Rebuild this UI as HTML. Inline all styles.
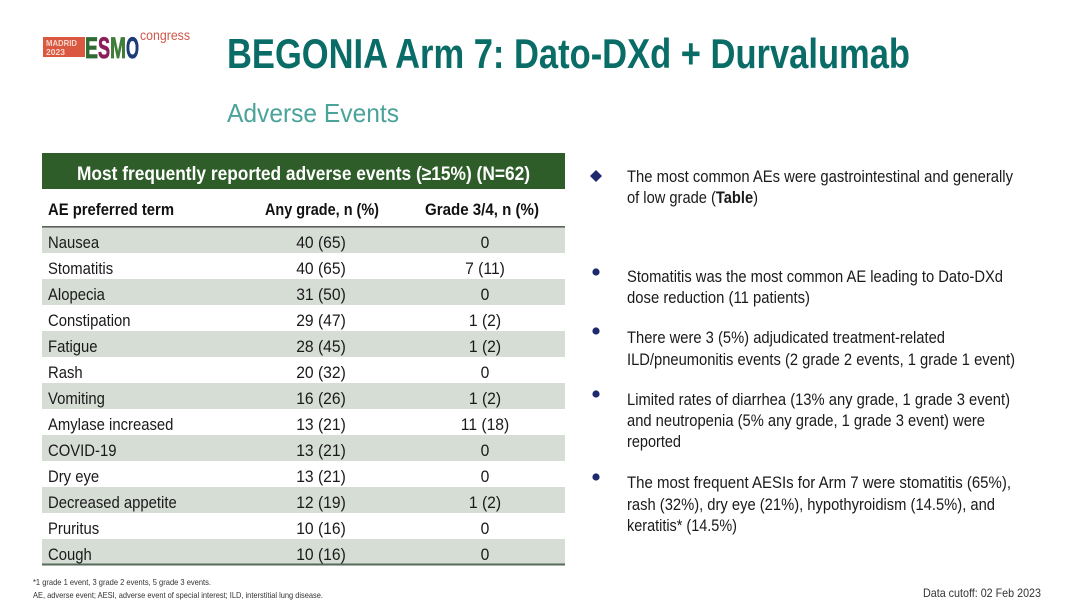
<!DOCTYPE html>
<html><head><meta charset="utf-8"><style>
html,body{margin:0;padding:0;background:#fff;}
svg{display:block;}
text{font-family:"Liberation Sans",Arial,sans-serif;}
</style></head><body>
<svg width="1080" height="608" viewBox="0 0 1080 608" xmlns="http://www.w3.org/2000/svg">
<rect width="1080" height="608" fill="#ffffff"/>
<!-- Logo -->
<rect x="43" y="37" width="42" height="20" fill="#d9583f"/>
<text x="46" y="46" font-size="8.5" font-weight="bold" fill="#f6d7cf" textLength="31" lengthAdjust="spacingAndGlyphs">MADRID</text>
<text x="46" y="55" font-size="8.5" font-weight="bold" fill="#f6d7cf" textLength="19" lengthAdjust="spacingAndGlyphs">2023</text>
<text x="85" y="58" font-size="30" font-weight="bold" fill="#2f6b34" stroke="#2f6b34" stroke-width="0.8" textLength="13" lengthAdjust="spacingAndGlyphs">E</text>
<text x="98" y="58" font-size="30" font-weight="bold" fill="#8b1f5a" stroke="#8b1f5a" stroke-width="0.8" textLength="12" lengthAdjust="spacingAndGlyphs">S</text>
<text x="110" y="58" font-size="30" font-weight="bold" fill="#3f7d3a" stroke="#3f7d3a" stroke-width="0.8" textLength="16" lengthAdjust="spacingAndGlyphs">M</text>
<text x="126" y="58" font-size="30" font-weight="bold" fill="#1c3c78" stroke="#1c3c78" stroke-width="0.8" textLength="13" lengthAdjust="spacingAndGlyphs">O</text>
<text x="140" y="40" font-size="14" fill="#d0584a" textLength="50" lengthAdjust="spacingAndGlyphs">congress</text>

<!-- Title -->
<text x="227" y="68" font-size="42" font-weight="bold" fill="#0a6c67" textLength="683" lengthAdjust="spacingAndGlyphs">BEGONIA Arm 7: Dato-DXd + Durvalumab</text>
<text x="227" y="122" font-size="26" fill="#4ba39a" textLength="172" lengthAdjust="spacingAndGlyphs">Adverse Events</text>

<!-- Table -->
<rect x="42" y="153" width="523" height="36" fill="#2f5d2a"/>
<text x="77" y="180" font-size="19.5" font-weight="bold" fill="#ffffff" textLength="453" lengthAdjust="spacingAndGlyphs">Most frequently reported adverse events (≥15%) (N=62)</text>
<text x="48" y="215" font-size="17" font-weight="bold" fill="#111" textLength="126" lengthAdjust="spacingAndGlyphs">AE preferred term</text>
<text x="265" y="215" font-size="17" font-weight="bold" fill="#111" textLength="114" lengthAdjust="spacingAndGlyphs">Any grade, n (%)</text>
<text x="425" y="215" font-size="17" font-weight="bold" fill="#111" textLength="114" lengthAdjust="spacingAndGlyphs">Grade 3/4, n (%)</text>

<g fill="#d6ddd5">
<rect x="42" y="227" width="523" height="26"/>
<rect x="42" y="279" width="523" height="26"/>
<rect x="42" y="331" width="523" height="26"/>
<rect x="42" y="383" width="523" height="26"/>
<rect x="42" y="435" width="523" height="26"/>
<rect x="42" y="487" width="523" height="26"/>
<rect x="42" y="539" width="523" height="25"/>
</g>
<rect x="42" y="226" width="523" height="1.6" fill="#5a625a"/>
<rect x="42" y="563.5" width="523" height="2" fill="#56695a"/>

<g font-size="16.5" fill="#1a1a1a">
<g>
<text transform="translate(48,248) scale(0.9,1)">Nausea</text>
<text transform="translate(48,274) scale(0.9,1)">Stomatitis</text>
<text transform="translate(48,300) scale(0.9,1)">Alopecia</text>
<text transform="translate(48,326) scale(0.9,1)">Constipation</text>
<text transform="translate(48,352) scale(0.9,1)">Fatigue</text>
<text transform="translate(48,378) scale(0.9,1)">Rash</text>
<text transform="translate(48,404) scale(0.9,1)">Vomiting</text>
<text transform="translate(48,430) scale(0.9,1)">Amylase increased</text>
<text transform="translate(48,456) scale(0.9,1)">COVID-19</text>
<text transform="translate(48,482) scale(0.9,1)">Dry eye</text>
<text transform="translate(48,508) scale(0.9,1)">Decreased appetite</text>
<text transform="translate(48,534) scale(0.9,1)">Pruritus</text>
<text transform="translate(48,560) scale(0.9,1)">Cough</text>
</g>
<g text-anchor="middle">
<text transform="translate(321,248) scale(0.95,1)">40 (65)</text>
<text transform="translate(321,274) scale(0.95,1)">40 (65)</text>
<text transform="translate(321,300) scale(0.95,1)">31 (50)</text>
<text transform="translate(321,326) scale(0.95,1)">29 (47)</text>
<text transform="translate(321,352) scale(0.95,1)">28 (45)</text>
<text transform="translate(321,378) scale(0.95,1)">20 (32)</text>
<text transform="translate(321,404) scale(0.95,1)">16 (26)</text>
<text transform="translate(321,430) scale(0.95,1)">13 (21)</text>
<text transform="translate(321,456) scale(0.95,1)">13 (21)</text>
<text transform="translate(321,482) scale(0.95,1)">13 (21)</text>
<text transform="translate(321,508) scale(0.95,1)">12 (19)</text>
<text transform="translate(321,534) scale(0.95,1)">10 (16)</text>
<text transform="translate(321,560) scale(0.95,1)">10 (16)</text>

<text transform="translate(485,248) scale(0.95,1)">0</text>
<text transform="translate(485,274) scale(0.95,1)">7 (11)</text>
<text transform="translate(485,300) scale(0.95,1)">0</text>
<text transform="translate(485,326) scale(0.95,1)">1 (2)</text>
<text transform="translate(485,352) scale(0.95,1)">1 (2)</text>
<text transform="translate(485,378) scale(0.95,1)">0</text>
<text transform="translate(485,404) scale(0.95,1)">1 (2)</text>
<text transform="translate(485,430) scale(0.95,1)">11 (18)</text>
<text transform="translate(485,456) scale(0.95,1)">0</text>
<text transform="translate(485,482) scale(0.95,1)">0</text>
<text transform="translate(485,508) scale(0.95,1)">1 (2)</text>
<text transform="translate(485,534) scale(0.95,1)">0</text>
<text transform="translate(485,560) scale(0.95,1)">0</text>
</g>
</g>

<!-- Footnotes -->
<text x="33" y="585" font-size="8.5" fill="#333" textLength="178" lengthAdjust="spacingAndGlyphs">*1 grade 1 event, 3 grade 2 events, 5 grade 3 events.</text>
<text x="33" y="598" font-size="8.5" fill="#333" textLength="290" lengthAdjust="spacingAndGlyphs">AE, adverse event; AESI, adverse event of special interest; ILD, interstitial lung disease.</text>
<text x="923" y="597" font-size="12" fill="#333" textLength="118" lengthAdjust="spacingAndGlyphs">Data cutoff: 02 Feb 2023</text>

<!-- Bullets -->
<polygon points="596,170 602,176 596,182 590,176" fill="#1f2a6e"/>
<circle cx="596" cy="272" r="3.6" fill="#1f2a6e"/>
<circle cx="596" cy="331" r="3.6" fill="#1f2a6e"/>
<circle cx="596" cy="394" r="3.6" fill="#1f2a6e"/>
<circle cx="596" cy="477" r="3.6" fill="#1f2a6e"/>

<g font-size="17" fill="#1a1a1a">
<text x="627" y="182" textLength="386" lengthAdjust="spacingAndGlyphs">The most common AEs were gastrointestinal and generally</text>
<text x="627" y="203" textLength="131" lengthAdjust="spacingAndGlyphs">of low grade (<tspan font-weight="bold">Table</tspan>)</text>
<text x="627" y="282" textLength="376" lengthAdjust="spacingAndGlyphs">Stomatitis was the most common AE leading to Dato-DXd</text>
<text x="627" y="303" textLength="183" lengthAdjust="spacingAndGlyphs">dose reduction (11 patients)</text>
<text x="627" y="343" textLength="318" lengthAdjust="spacingAndGlyphs">There were 3 (5%) adjudicated treatment-related</text>
<text x="627" y="365" textLength="388" lengthAdjust="spacingAndGlyphs">ILD/pneumonitis events (2 grade 2 events, 1 grade 1 event)</text>
<text x="627" y="405" textLength="383" lengthAdjust="spacingAndGlyphs">Limited rates of diarrhea (13% any grade, 1 grade 3 event)</text>
<text x="627" y="426" textLength="358" lengthAdjust="spacingAndGlyphs">and neutropenia (5% any grade, 1 grade 3 event) were</text>
<text x="627" y="447" textLength="54" lengthAdjust="spacingAndGlyphs">reported</text>
<text x="627" y="488" textLength="384" lengthAdjust="spacingAndGlyphs">The most frequent AESIs for Arm 7 were stomatitis (65%),</text>
<text x="627" y="510" textLength="368" lengthAdjust="spacingAndGlyphs">rash (32%), dry eye (21%), hypothyroidism (14.5%), and</text>
<text x="627" y="531" textLength="110" lengthAdjust="spacingAndGlyphs">keratitis* (14.5%)</text>
</g>
</svg>
</body></html>
